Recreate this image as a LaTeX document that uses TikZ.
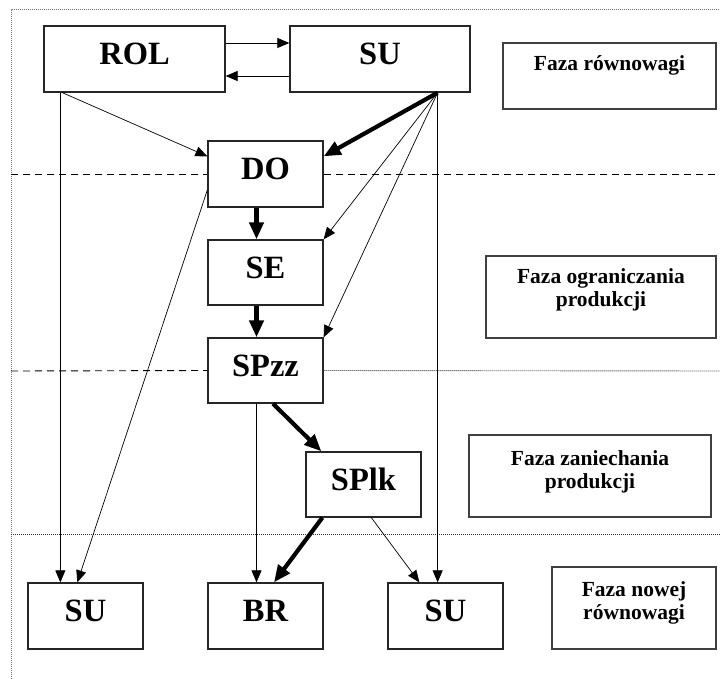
\documentclass[tikz,border=0pt]{standalone}
\usepackage{fontspec}
\setmainfont{Liberation Serif}
\usetikzlibrary{arrows.meta}
\begin{document}
\begin{tikzpicture}[x=1pt,y=-1pt,
  box/.style={draw=black!85, line width=1.3pt, inner sep=0pt,
    font=\fontsize{32.5}{38}\selectfont\bfseries, text height=22pt, text depth=11pt},
  phasebox/.style={draw=black!75, line width=1.6pt, inner sep=0pt},
  phasetext/.style={anchor=base, inner sep=0pt, font=\fontsize{21.5}{23.5}\selectfont\bfseries},
  thinarr/.style={line width=0.7pt, -{Triangle[length=12pt,width=10pt]}},
  thickarr/.style={line width=4.2pt, -{Triangle[length=17pt,width=14pt]}},
  divdash/.style={line width=0.9pt, dash pattern=on 7pt off 5pt},
  divdot/.style={line width=0.9pt, black!80, dash pattern=on 1pt off 1pt},
  frameline/.style={line width=1pt, black!55, dash pattern=on 1pt off 1pt}]
\useasboundingbox (0,0) rectangle (720,679);
\draw[frameline] (11,679) -- (11,10) -- (720,10);

% main boxes
\node[box, minimum width=181pt, minimum height=66pt] (rol) at (134.5,59) {ROL};
\node[box, minimum width=180pt, minimum height=66pt] (su1) at (380,59) {SU};
\node[box, minimum width=115pt, minimum height=66pt] (do) at (265.5,174) {DO};
\node[box, minimum width=115pt, minimum height=65pt] (se) at (265.5,272.5) {SE};
\node[box, minimum width=115pt, minimum height=65pt] (spzz) at (265.5,370.5) {SPzz};
\node[box, minimum width=115pt, minimum height=65pt] (splk) at (363.5,484.5) {SPlk};
\node[box, minimum width=115pt, minimum height=66pt] (su2) at (85.5,616) {SU};
\node[box, minimum width=115pt, minimum height=66pt] (br) at (265.5,616) {BR};
\node[box, minimum width=115pt, minimum height=66pt] (su3) at (445.5,616) {SU};

% phase boxes
\node[phasebox, minimum width=213pt, minimum height=66pt] (f1) at (609.5,76) {};
\node[phasetext] (f1t) at (609.5,71) {Faza równowagi};
\node[phasebox, minimum width=230pt, minimum height=82pt] (f2) at (601,297) {};
\node[phasetext] (f2t) at (601,283) {\tabcolsep=0pt\begin{tabular}[t]{c}Faza ograniczania\\produkcji\end{tabular}};
\node[phasebox, minimum width=242pt, minimum height=82pt] (f3) at (590,476) {};
\node[phasetext] (f3t) at (590,465) {\tabcolsep=0pt\begin{tabular}[t]{c}Faza zaniechania\\produkcji\end{tabular}};
\node[phasebox, minimum width=164pt, minimum height=82pt] (f4) at (634,608) {};
\node[phasetext] (f4t) at (634,596) {\tabcolsep=0pt\begin{tabular}[t]{c}Faza nowej\\równowagi\end{tabular}};

% dividers
\coordinate (l1) at (11,174);
\coordinate (r1) at (720,174);
\coordinate (l2) at (11,371);
\coordinate (r2) at (720,371);
\coordinate (l3) at (11,534);
\coordinate (r3) at (720,534);
\draw[divdash] (l1) -- (do.west);
\draw[divdash] (do.east) -- (r1);
\draw[divdash] (l2) -- (spzz.west);
\draw[divdot] (spzz.east) -- (r2);
\draw[divdot] (l3) -- (r3);

% connectors
\draw[thinarr] ([yshift=16pt]rol.east) -- ([yshift=16pt]su1.west);
\draw[thinarr] ([yshift=-17pt]su1.west) -- ([yshift=-17pt]rol.east);
\draw[thinarr] ([xshift=19pt]rol.south west) -- ([yshift=-16pt]do.north west);
\draw[thinarr] ([xshift=17pt]rol.south west) -- ([xshift=17pt]rol.south west |- su2.north);

\coordinate (hub) at ([xshift=-33pt]su1.south east);
\draw[thickarr] (hub) -- ([yshift=-16pt]do.north east);
\draw[thinarr] (hub) -- (se.north east);
\draw[thinarr] (hub) -- (spzz.north east);
\draw[thinarr] (hub) -- (hub |- su3.north);

\draw[thinarr] ([yshift=-16pt]do.west) -- ([xshift=50pt]su2.north west);
\draw[thickarr] ([xshift=-9pt]do.south) -- ([xshift=-9pt]do.south |- se.north);
\draw[thickarr] ([xshift=-9pt]se.south) -- ([xshift=-9pt]se.south |- spzz.north);
\draw[thinarr] ([xshift=-9pt]spzz.south) -- ([xshift=-9pt]spzz.south |- br.north);
\draw[thickarr] ([xshift=7.5pt]spzz.south) -- ([xshift=16pt]splk.north west);
\draw[thickarr] ([xshift=17pt]splk.south west) -- ([xshift=8.5pt]br.north);
\draw[thinarr] ([xshift=66pt]splk.south west) -- ([xshift=32pt]su3.north west);
\end{tikzpicture}
\end{document}
